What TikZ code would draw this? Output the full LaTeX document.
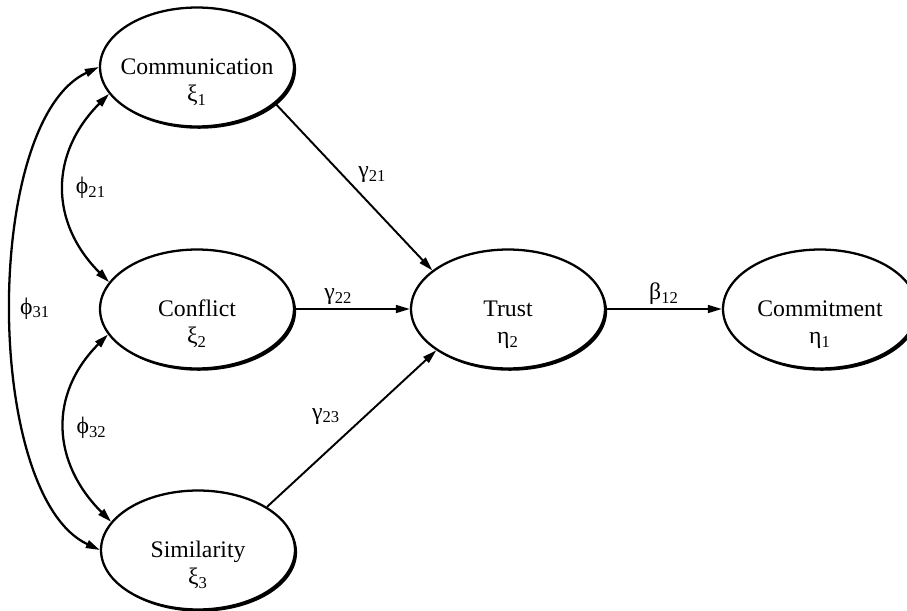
\documentclass[tikz,border=0pt]{standalone}
\usepackage{fontspec}
\setmainfont{Liberation Serif}
\usetikzlibrary{shapes.geometric,shadows,arrows.meta}
\tikzset{
  latent/.style={ellipse, draw, line width=1.3pt, fill=white,
    minimum width=3.88cm, minimum height=2.38cm, inner xsep=-0.8cm, inner ysep=0pt,
    align=center, text height=39.8pt, text depth=0pt,
    font=\fontsize{13.5}{15.5}\selectfont,
    drop shadow={shadow xshift=1.2pt, shadow yshift=-1.3pt, fill=black, opacity=1}},
  causal/.style={line width=1.1pt, -{Triangle[length=8pt,width=4.5pt]}},
  covar/.style={line width=1.3pt,
    {Triangle[length=8pt,width=4.5pt]}-{Triangle[length=8pt,width=4.5pt]}},
  coef/.style={font=\fontsize{13.5}{15}\selectfont, inner sep=2pt}
}
\begin{document}
\begin{tikzpicture}[x=0.02cm,y=-0.02cm]
  \useasboundingbox (0,0) rectangle (907,611);
  % latent variables
  \node[latent] (comm) at (197,67) {Communication\\ξ\textsubscript{1}};
  \node[latent] (conf) at (197,309) {Conflict\\ξ\textsubscript{2}};
  \node[latent] (sim) at (198,550) {Similarity\\ξ\textsubscript{3}};
  \node[latent] (trust) at (508,309) {Trust\\η\textsubscript{2}};
  \node[latent] (commit) at (820,309) {Commitment\\η\textsubscript{1}};
  % paths
  \draw[causal] (comm.-25) -- (trust.153) node [coef,midway,above right] (g21) {γ\textsubscript{21}};
  \draw[causal] (conf) -- (trust) node [coef,midway,above,xshift=-8pt] (g22) {γ\textsubscript{22}};
  \draw[causal] (sim.32) -- (trust.210) node [coef,midway,above left,xshift=-4pt] (g23) {γ\textsubscript{23}};
  \draw[causal] (trust) -- (commit) node [coef,midway,above] (b12) {β\textsubscript{12}};
  % covariances
  \draw[covar] (comm.197) to[out=225,in=135,looseness=1.15] node [coef,right,xshift=4pt] (p21) {ϕ\textsubscript{21}} (conf.163);
  \draw[covar] (conf.196) to[out=225,in=135,looseness=1.15] node [coef,right,xshift=4pt] (p32) {ϕ\textsubscript{32}} (sim.162);
  \draw[covar] (comm.west) to[out=205,in=155,looseness=0.68] node [coef,right,xshift=2pt] (p31) {ϕ\textsubscript{31}} (sim.west);
\end{tikzpicture}
\end{document}
